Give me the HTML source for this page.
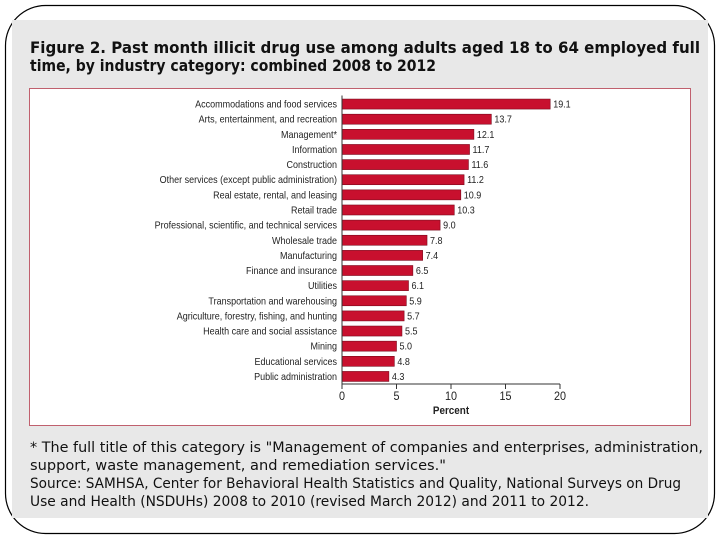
<!DOCTYPE html>
<html><head><meta charset="utf-8"><style>
html,body{margin:0;padding:0;background:#fff;}
body{width:720px;height:540px;position:relative;overflow:hidden;}
svg{position:absolute;left:0;top:0;}
</style></head><body>
<svg width="720" height="540" viewBox="0 0 720 540">
  <rect x="5.5" y="5.5" width="709" height="528" rx="40" ry="40" fill="#fff" stroke="#000" stroke-width="1.2"/>
  <rect x="12" y="20" width="696" height="498" fill="#e8e8e8"/>
  <g font-family="'DejaVu Sans', sans-serif" font-weight="bold" font-size="16" fill="#111">
    <text x="30" y="53" textLength="670" lengthAdjust="spacingAndGlyphs">Figure 2. Past month illicit drug use among adults aged 18 to 64 employed full</text>
    <text x="30" y="71" textLength="406" lengthAdjust="spacingAndGlyphs">time, by industry category: combined 2008 to 2012</text>
  </g>
  <rect x="29.5" y="88.5" width="661" height="337" fill="#fff" stroke="#c0606e" stroke-width="1"/>
  <g id="chart"></g>
  <g font-family="'DejaVu Sans', sans-serif" font-size="14" fill="#111">
    <text x="30" y="452" textLength="673" lengthAdjust="spacingAndGlyphs">* The full title of this category is "Management of companies and enterprises, administration,</text>
    <text x="30" y="470" textLength="416" lengthAdjust="spacingAndGlyphs">support, waste management, and remediation services."</text>
    <text x="30" y="488" textLength="651" lengthAdjust="spacingAndGlyphs">Source: SAMHSA, Center for Behavioral Health Statistics and Quality, National Surveys on Drug</text>
    <text x="30" y="506" textLength="559" lengthAdjust="spacingAndGlyphs">Use and Health (NSDUHs) 2008 to 2010 (revised March 2012) and 2011 to 2012.</text>
  </g>
</svg>
<script>
const categories = ["Accommodations and food services","Arts, entertainment, and recreation","Management*","Information","Construction","Other services (except public administration)","Real estate, rental, and leasing","Retail trade","Professional, scientific, and technical services","Wholesale trade","Manufacturing","Finance and insurance","Utilities","Transportation and warehousing","Agriculture, forestry, fishing, and hunting","Health care and social assistance","Mining","Educational services","Public administration"];
const values = [19.1,13.7,12.1,11.7,11.6,11.2,10.9,10.3,9.0,7.8,7.4,6.5,6.1,5.9,5.7,5.5,5.0,4.8,4.3];
const valueLabels = ["19.1","13.7","12.1","11.7","11.6","11.2","10.9","10.3","9.0","7.8","7.4","6.5","6.1","5.9","5.7","5.5","5.0","4.8","4.3"];
const ticks = [0,5,10,15,20];
const tickLabels = ["0","5","10","15","20"];

const NS = "http://www.w3.org/2000/svg";
const g = document.getElementById('chart');
const x0 = 342, x1 = 560, yTop = 96.5, yBot = 384;
const xs = v => x0 + (v / 20) * (x1 - x0);
const band = (yBot - yTop) / categories.length;
const ys = i => yTop + band * i + band / 2;
const SX = 0.9;
function mk(tag, attrs){ const e = document.createElementNS(NS, tag); for (const k in attrs) e.setAttribute(k, attrs[k]); g.appendChild(e); return e; }
const font = "'Liberation Sans',sans-serif";
categories.forEach((c, i) => {
  const y = ys(i);
  const bar = mk('rect', {x: x0, y: y - 5, width: xs(values[i]) - x0, height: 10, fill: '#c8102e', stroke: '#7a0a1c', 'stroke-width': 0.6});
  
  
  const lab = mk('text', {x: 0, y: 0, transform: 'translate(337,' + (y + 3.5) + ') scale(' + SX + ',1)', 'text-anchor': 'end', 'font-family': font, 'font-size': 10, fill: '#222'});
  lab.textContent = c;
  
  
  const vl = mk('text', {x: 0, y: 0, transform: 'translate(' + (xs(values[i]) + 3) + ',' + (y + 3.5) + ') scale(' + SX + ',1)', 'font-family': font, 'font-size': 10, fill: '#222'});
  vl.textContent = valueLabels[i];
  
  
});
const yAxis = mk('line', {x1: x0, y1: yTop - 1, x2: x0, y2: yBot, stroke: '#333', 'stroke-width': 1});


const xAxis = mk('line', {x1: x0, y1: yBot, x2: x1, y2: yBot, stroke: '#333', 'stroke-width': 1});


ticks.forEach((t, i) => {
  const tk = mk('line', {x1: xs(t), y1: yBot, x2: xs(t), y2: yBot + 5, stroke: '#333', 'stroke-width': 1});
  
  
  const tl = mk('text', {x: 0, y: 0, transform: 'translate(' + xs(t) + ',' + (yBot + 16) + ') scale(' + SX + ',1)', 'text-anchor': 'middle', 'font-family': font, 'font-size': 12, fill: '#222'});
  tl.textContent = tickLabels[i];
  
  
});
const xt = mk('text', {x: 0, y: 0, transform: 'translate(' + ((x0 + x1) / 2) + ',' + (yBot + 30) + ') scale(' + SX + ',1)', 'text-anchor': 'middle', 'font-family': font, 'font-size': 11, 'font-weight': 'bold', fill: '#222'});
xt.textContent = 'Percent';


</script>
</body></html>
